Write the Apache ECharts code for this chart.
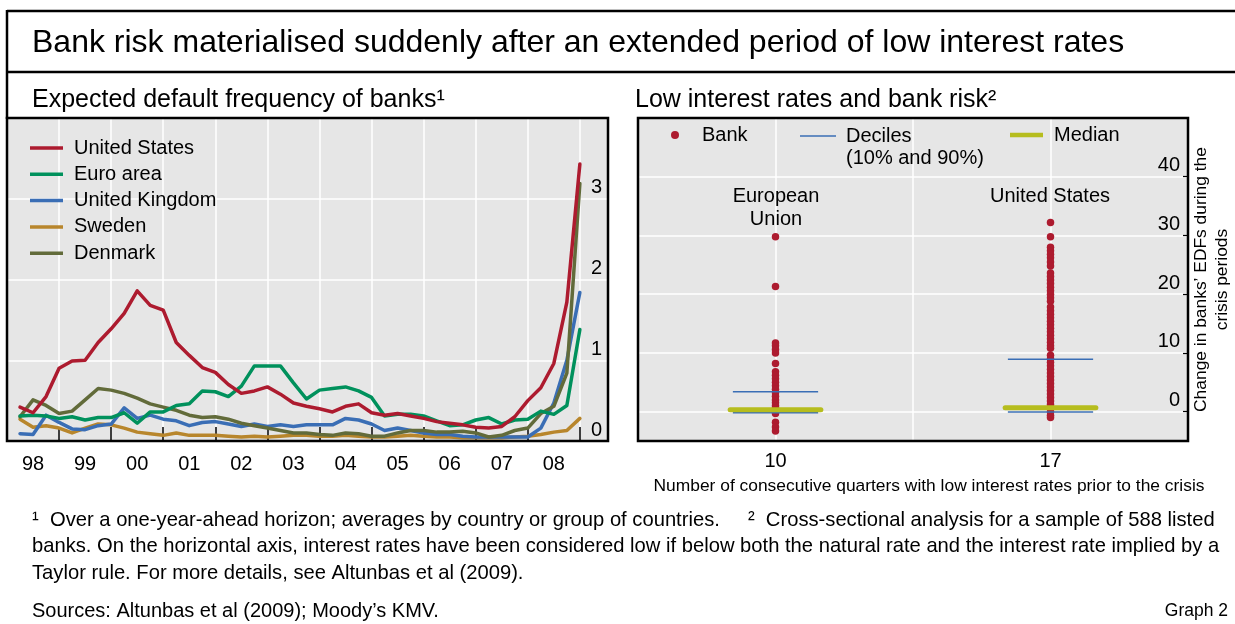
<!DOCTYPE html>
<html><head><meta charset="utf-8">
<script src="https://cdn.jsdelivr.net/npm/echarts@6/dist/echarts.min.js"></script>
<style>html,body{margin:0;padding:0;background:#fff}#c{width:1235px;height:624px}</style>
</head><body><div id="c"></div>
<script>
// ---------- Data: left panel (quarterly EDF, %) ----------
const quarters = [1998.25,1998.5,1998.75,1999.0,1999.25,1999.5,1999.75,2000.0,2000.25,2000.5,2000.75,2001.0,
  2001.25,2001.5,2001.75,2002.0,2002.25,2002.5,2002.75,2003.0,2003.25,2003.5,2003.75,2004.0,
  2004.25,2004.5,2004.75,2005.0,2005.25,2005.5,2005.75,2006.0,2006.25,2006.5,2006.75,2007.0,
  2007.25,2007.5,2007.75,2008.0,2008.25,2008.5,2008.75,2009.0];
const years = [1998,1999,2000,2001,2002,2003,2004,2005,2006,2007,2008];
const yearLabels = ['98','99','00','01','02','03','04','05','06','07','08'];
const unitedStates = [0.42,0.35,0.55,0.90, 0.99,1.00,1.22,1.39, 1.58,1.86,1.68,1.62, 1.22,1.06,0.91,0.85,
  0.70,0.59,0.62,0.67, 0.58,0.47,0.43,0.40, 0.36,0.43,0.46,0.35, 0.32,0.34,0.31,0.28,
  0.24,0.22,0.20,0.17, 0.16,0.18,0.30,0.50, 0.66,0.96,1.72,3.43];
const euroArea = [0.31,0.32,0.31,0.28, 0.30,0.26,0.29,0.29, 0.35,0.22,0.36,0.36, 0.44,0.46,0.62,0.61,
  0.55,0.68,0.93,0.93, 0.93,0.72,0.52,0.63, 0.65,0.67,0.62,0.54, 0.31,0.33,0.33,0.31,
  0.25,0.19,0.20,0.26, 0.29,0.21,0.26,0.27, 0.37,0.33,0.44,1.38];
const unitedKingdom = [0.09,0.08,0.32,0.23, 0.15,0.14,0.19,0.21, 0.41,0.28,0.32,0.27, 0.25,0.19,0.23,0.24,
  0.21,0.18,0.21,0.18, 0.20,0.18,0.20,0.20, 0.20,0.28,0.26,0.21, 0.13,0.16,0.13,0.10,
  0.08,0.08,0.06,0.05, 0.05,0.05,0.05,0.05, 0.16,0.47,1.00,1.84];
const sweden = [0.27,0.17,0.19,0.16, 0.10,0.16,0.21,0.20, 0.16,0.11,0.09,0.07, 0.10,0.07,0.07,0.07,
  0.06,0.05,0.06,0.05, 0.06,0.07,0.07,0.06, 0.06,0.07,0.06,0.05, 0.05,0.06,0.07,0.06,
  0.05,0.05,0.04,0.04, 0.04,0.04,0.05,0.06, 0.08,0.11,0.13,0.28];
const denmark = [0.30,0.51,0.44,0.34, 0.37,0.51,0.65,0.63, 0.59,0.53,0.46,0.42, 0.38,0.32,0.29,0.30,
  0.27,0.22,0.19,0.16, 0.13,0.10,0.10,0.08, 0.07,0.10,0.09,0.06, 0.06,0.10,0.13,0.13,
  0.11,0.11,0.12,0.10, 0.05,0.07,0.13,0.16, 0.34,0.43,0.84,3.19];

// ---------- Data: right panel (change in EDFs, pp) ----------
const groupNames = ['European\nUnion', 'United States'];
const groupQuarters = ['10', '17'];      // consecutive quarters of low rates
const groupSlot = [1, 3];                // slot on the horizontal axis
const euBanks = [29.8, 21.3, 11.7, 11.2, 10.6, 10.0, 8.2, 6.8, 6.2, 5.6, 5.0, 4.4, 3.8, 3.2, 2.6, 2.0,
  1.5, 1.0, 0.6, 0.3, 0.0, -0.3, -1.8, -2.6, -3.3];
const usBanks = [32.2, 29.8, 28.0, 27.4, 26.8, 26.2, 25.5, 24.8, 23.6, 23.0, 22.4, 21.8, 21.2, 20.6, 20.0,
  19.4, 18.8, 17.8, 17.2, 16.6, 16.0, 15.4, 14.8, 14.2, 13.6, 13.0, 12.4, 11.8, 11.2, 10.8, 9.6, 9.0,
  8.4, 7.8, 7.2, 6.6, 6.0, 5.4, 4.8, 4.2, 3.6, 3.0, 2.4, 1.8, 1.2, 0.6, 0.0, -0.6, -1.0];
const decile90 = [3.4, 8.9];
const decile10 = [-0.2, -0.05];
const medians = [0.3, 0.65];
const rightTicks = [0, 10, 20, 30, 40];

// ---------- Styling ----------
const FF = "'Liberation Sans', Arial, Helvetica, sans-serif";
const C = { us:'#ad1b2f', euro:'#00915c', uk:'#3a6eb5', se:'#b8862c', dk:'#626b3a', bank:'#ad1b2f', dec:'#3a6eb5', med:'#b6bd1e' };
const HALF = 0.31;
const FS = 20;

const lineSeries = [
  ['Sweden', sweden, C.se], ['United Kingdom', unitedKingdom, C.uk], ['Denmark', denmark, C.dk],
  ['Euro area', euroArea, C.euro], ['United States', unitedStates, C.us]
].map(([name, vals, color]) => ({
  name, type:'line', xAxisIndex:0, yAxisIndex:0, symbol:'none', color,
  lineStyle:{ width:3.5, color, join:'round', cap:'round' },
  data: quarters.map((q, i) => [q, vals[i]])
}));

const bankData = [];
[euBanks, usBanks].forEach((arr, g) => arr.forEach(v => bankData.push([groupSlot[g], v])));

const segSeries = [];
groupSlot.forEach((s, g) => {
  [decile90[g], decile10[g]].forEach(v => segSeries.push({
    name:'Deciles', type:'line', xAxisIndex:1, yAxisIndex:1, symbol:'none', color:C.dec, z:4,
    lineStyle:{ width:1.5, color:C.dec }, data:[[s - HALF, v], [s + HALF, v]]
  }));
  segSeries.push({
    name:'Median', type:'line', xAxisIndex:1, yAxisIndex:1, symbol:'none', color:C.med, z:5,
    lineStyle:{ width:5, color:C.med, cap:'round' }, data:[[s - HALF - 0.02, medians[g]], [s + HALF + 0.02, medians[g]]]
  });
});

const txt = { fontFamily:FF, fill:'#000' };
const legText = (pl) => ({ fontSize:FS, color:'#000', fontFamily:FF, lineHeight:22, padding:[0,0,0,pl] });
const chart = echarts.init(document.getElementById('c'), null, { renderer:'canvas' });
chart.setOption({
  animation:false,
  backgroundColor:'#fff',
  textStyle:{ fontFamily:FF },
  grid:[
    { left:7, top:118, width:601, height:323, show:true, backgroundColor:'#e6e6e6', borderWidth:0,
      containLabel:false, outerBoundsMode:'none' },
    { left:638, top:118, width:550, height:323, show:true, backgroundColor:'#e6e6e6', borderWidth:0,
      containLabel:false, outerBoundsMode:'none' }
  ],
  xAxis:[
    { gridIndex:0, type:'value', min:1998, max:2009.54, interval:1,
      axisLine:{ show:false, onZero:false },
      axisTick:{ show:true, inside:true, length:14, lineStyle:{ color:'#000', width:1.5 } },
      axisLabel:{ customValues: years.map(y => y + 0.5), formatter: v => yearLabels[years.indexOf(Math.round(v - 0.5))],
        fontSize:FS, color:'#000', fontFamily:FF, margin:13 },
      splitLine:{ show:true, lineStyle:{ color:'#fff', width:1.5 } } },
    { gridIndex:1, type:'value', min:0, max:4, interval:1,
      axisLine:{ show:false, onZero:false }, axisTick:{ show:false },
      axisLabel:{ formatter: v => { const i = groupSlot.indexOf(v); return i >= 0 ? groupQuarters[i] : ''; },
        fontSize:FS, color:'#000', fontFamily:FF, margin:10 },
      splitLine:{ show:true, lineStyle:{ color:'#fff', width:1.5 } },
      name:'Number of consecutive quarters with low interest rates prior to the crisis',
      nameLocation:'middle', nameGap:37,
      nameTextStyle:{ fontSize:17.4, color:'#000', fontFamily:FF, padding:[0,0,0,32] } }
  ],
  yAxis:[
    { gridIndex:0, type:'value', position:'right', min:0, max:4, interval:1,
      axisLine:{ show:false, onZero:false }, axisTick:{ show:false },
      axisLabel:{ inside:true, margin:6, verticalAlign:'bottom', fontSize:FS, color:'#000', fontFamily:FF,
        showMaxLabel:false, padding:[0,0,1,0] },
      splitLine:{ show:true, lineStyle:{ color:'#fff', width:1.5 } } },
    { gridIndex:1, type:'value', position:'right', min:-5, max:50,
      axisLine:{ show:false, onZero:false },
      axisTick:{ show:true, inside:true, customValues:rightTicks, length:5, lineStyle:{ color:'#000', width:1.2 } },
      axisLabel:{ customValues:rightTicks, inside:true, margin:8, verticalAlign:'bottom', fontSize:FS, color:'#000',
        fontFamily:FF, padding:[0,0,1,0] },
      splitLine:{ show:true, lineStyle:{ color:'#fff', width:1.5 } },
      name:'Change in banks’ EDFs during the\ncrisis periods', nameLocation:'middle', nameRotate:90, nameGap:3,
      nameTextStyle:{ fontSize:17.4, color:'#000', fontFamily:FF, lineHeight:21, align:'center' } }
  ],
  legend:[
    { data:['United States','Euro area','United Kingdom','Sweden','Denmark'], orient:'vertical', left:30, top:137,
      padding:0, icon:'rect', itemWidth:33, itemHeight:3.5, itemGap:4.3, selectedMode:false, textStyle:legText(6) },
    { data:['Bank'], left:671, top:124, padding:0, icon:'circle', itemWidth:8, itemHeight:8, selectedMode:false,
      textStyle:legText(18) },
    { data:['Deciles'], left:800, top:125, padding:0, icon:'rect', itemWidth:36, itemHeight:1.5, selectedMode:false,
      textStyle:legText(5) },
    { data:['Median'], left:1010, top:124, padding:0, icon:'rect', itemWidth:33, itemHeight:4.5, selectedMode:false,
      textStyle:legText(6) }
  ],
  series:[
    ...lineSeries,
    { name:'Bank', type:'scatter', xAxisIndex:1, yAxisIndex:1, symbol:'circle', symbolSize:7.5, z:3,
      itemStyle:{ color:C.bank, opacity:1 }, data:bankData },
    ...segSeries
  ],
  graphic:[
    { type:'rect', z:100, shape:{ x:7, y:118, width:601, height:323 }, style:{ fill:'none', stroke:'#000', lineWidth:2.5 } },
    { type:'rect', z:100, shape:{ x:638, y:118, width:550, height:323 }, style:{ fill:'none', stroke:'#000', lineWidth:2.5 } },
    { type:'line', z:100, shape:{ x1:7, y1:11, x2:1235, y2:11 }, style:{ stroke:'#000', lineWidth:2.5 } },
    { type:'line', z:100, shape:{ x1:7, y1:72, x2:1235, y2:72 }, style:{ stroke:'#000', lineWidth:2.5 } },
    { type:'line', z:100, shape:{ x1:7, y1:10, x2:7, y2:119 }, style:{ stroke:'#000', lineWidth:2.5 } },
    { type:'text', z:100, x:32, y:43, style:{ ...txt, text:'Bank risk materialised suddenly after an extended period of low interest rates', fontSize:32, verticalAlign:'middle' } },
    { type:'text', z:100, x:32, y:100, style:{ ...txt, text:'Expected default frequency of banks¹', fontSize:25, verticalAlign:'middle' } },
    { type:'text', z:100, x:635, y:100, style:{ ...txt, text:'Low interest rates and bank risk²', fontSize:25, verticalAlign:'middle' } },
    { type:'text', z:100, x:846, y:158, style:{ ...txt, text:'(10% and 90%)', fontSize:FS, verticalAlign:'middle' } },
    { type:'text', z:100, x:776, y:208, style:{ ...txt, text:groupNames[0], fontSize:FS, lineHeight:23, align:'center', verticalAlign:'middle' } },
    { type:'text', z:100, x:1050, y:196, style:{ ...txt, text:groupNames[1], fontSize:FS, align:'center', verticalAlign:'middle' } },
    { type:'text', z:100, x:32, y:546.5, style:{ ...txt, fontSize:20.2, lineHeight:26.5, verticalAlign:'middle',
      text:'¹  Over a one-year-ahead horizon; averages by country or group of countries.     ²  Cross-sectional analysis for a sample of 588 listed\nbanks. On the horizontal axis, interest rates have been considered low if below both the natural rate and the interest rate implied by a\nTaylor rule. For more details, see Altunbas et al (2009).' } },
    { type:'text', z:100, x:32, y:611, style:{ ...txt, text:'Sources: Altunbas et al (2009); Moody’s KMV.', fontSize:FS, verticalAlign:'middle' } },
    { type:'text', z:100, x:1228, y:611, style:{ ...txt, text:'Graph 2', fontSize:17.5, align:'right', verticalAlign:'middle' } }
  ]
});
</script>
</body></html>
